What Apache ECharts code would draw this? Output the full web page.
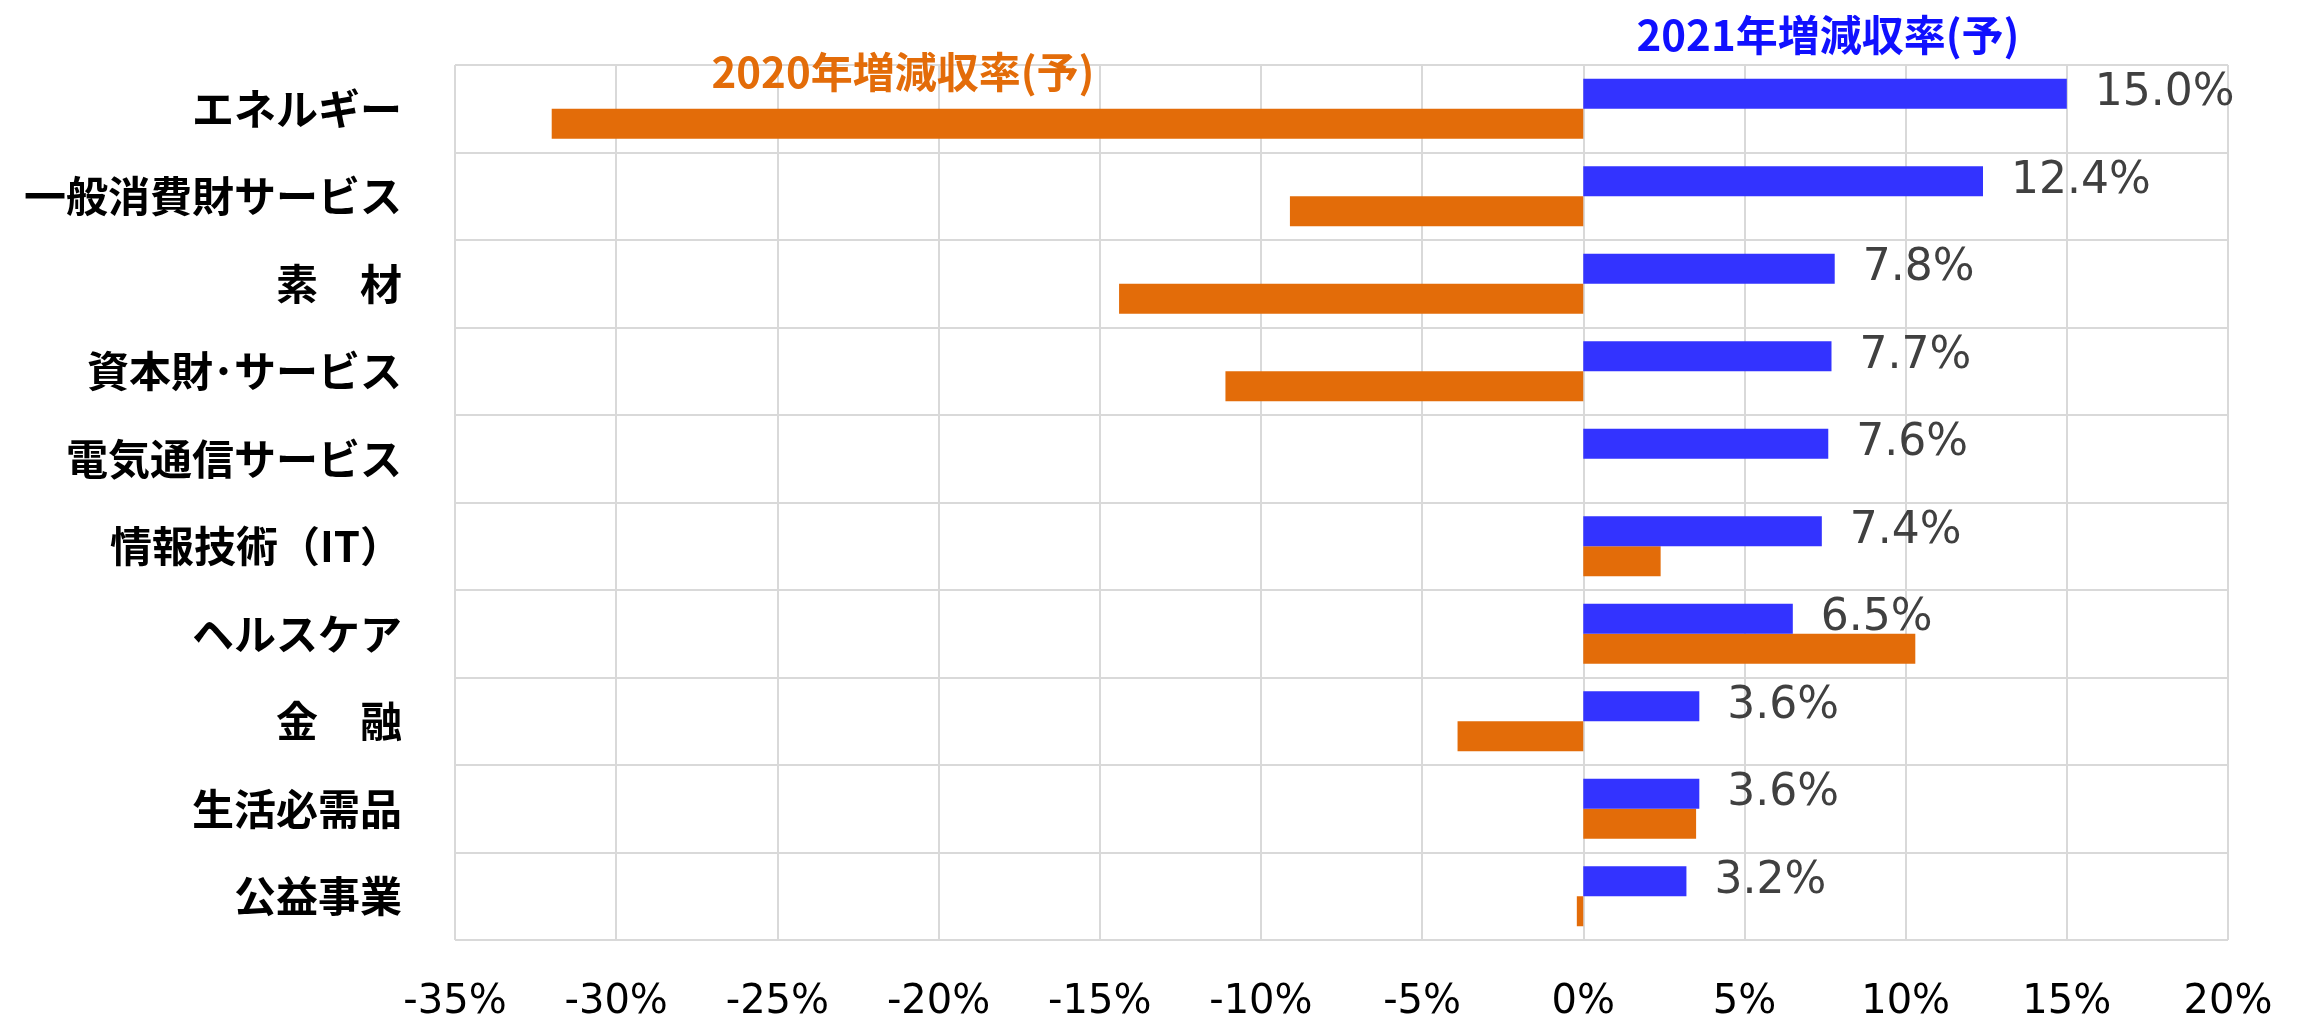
<!DOCTYPE html>
<html>
<head>
<meta charset="utf-8">
<title>増減収率</title>
<script src="https://cdn.jsdelivr.net/npm/echarts@6/dist/echarts.min.js"></script>
<style>
  html, body { margin: 0; padding: 0; background: #fff; }
  #chart { width: 2298px; height: 1023px; }
</style>
</head>
<body>
<div id="chart"></div>
<script>
// セクター（上から順）
const sectors = ['エネルギー', '一般消費財サービス', '素　材', '資本財･サービス', '電気通信サービス',
    '情報技術（IT）', 'ヘルスケア', '金　融', '生活必需品', '公益事業'];
const name2021 = '2021年増減収率(予)';
const name2020 = '2020年増減収率(予)';
const values2021 = [15.0, 12.4, 7.8, 7.7, 7.6, 7.4, 6.5, 3.6, 3.6, 3.2];
const values2020 = [-32.0, -9.1, -14.4, -11.1, 0, 2.4, 10.3, -3.9, 3.5, -0.2];
const xTicks = { min: -35, max: 20, step: 5 };

const BLUE = '#3333FF';
const ORANGE = '#E36C09';
const GRID = '#D9D9D9';

const chart = echarts.init(document.getElementById('chart'));

chart.setOption({
    backgroundColor: '#fff',
    animation: false,
    title: [
        {
            text: name2020, left: 898, top: 46, textAlign: 'center',
            textStyle: { color: ORANGE, fontSize: 42, fontWeight: 'bold', fontFamily: 'Noto Sans CJK JP' }
        },
        {
            text: name2021, left: 1823, top: 9, textAlign: 'center',
            textStyle: { color: '#1010FF', fontSize: 42, fontWeight: 'bold', fontFamily: 'Noto Sans CJK JP' }
        }
    ],
    grid: { left: 455, right: 70, top: 65, bottom: 83, containLabel: false, outerBoundsMode: 'none' },
    xAxis: {
        type: 'value',
        min: xTicks.min,
        max: xTicks.max,
        interval: xTicks.step,
        axisLine: { show: false },
        axisTick: { show: false },
        axisLabel: {
            formatter: '{value}%', color: '#000', fontSize: 40, margin: 43,
            fontFamily: 'DejaVu Sans'
        },
        splitLine: { show: true, lineStyle: { color: GRID, width: 2 } }
    },
    yAxis: {
        type: 'category',
        inverse: true,
        data: sectors,
        axisLine: { show: false },
        axisTick: { show: false },
        axisLabel: {
            color: '#000', fontSize: 42, fontWeight: 'bold', margin: 53,
            fontFamily: 'Noto Sans CJK JP', padding: [0, 0, 16, 0]
        },
        splitLine: { show: true, lineStyle: { color: GRID, width: 2 } }
    },
    series: [
        {
            name: name2021,
            type: 'bar',
            data: values2021,
            barWidth: 30,
            barGap: '0%',
            itemStyle: { color: BLUE },
            z: 2,
            label: {
                show: true,
                position: 'right',
                distance: 28,
                color: '#404040',
                fontSize: 44,
                fontFamily: 'DejaVu Sans',
                formatter: p => p.value.toFixed(1) + '%'
            }
        },
        {
            name: name2020,
            type: 'bar',
            data: values2020,
            barWidth: 30,
            barGap: '0%',
            itemStyle: { color: ORANGE },
            z: 1
        }
    ]
});
</script>
</body>
</html>
